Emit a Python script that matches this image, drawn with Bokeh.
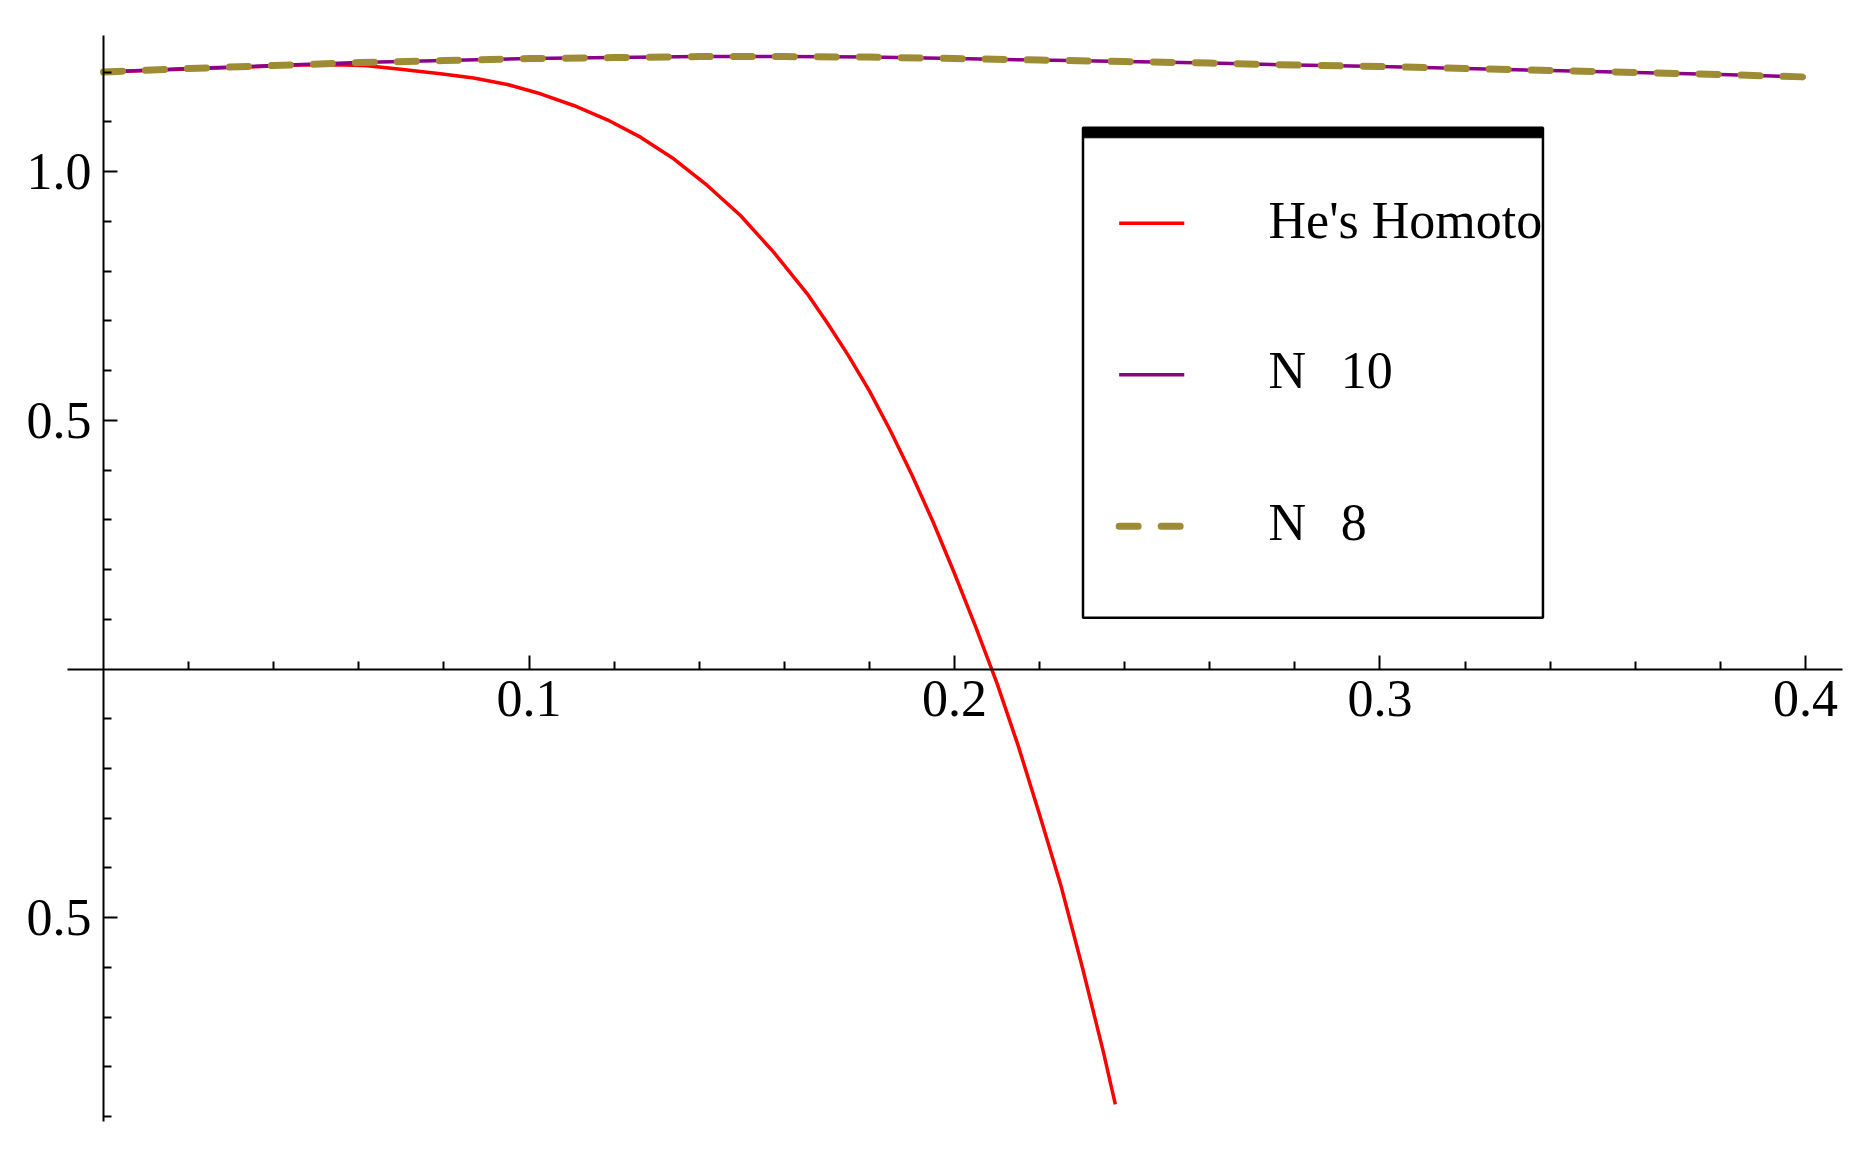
from bokeh.plotting import figure
from bokeh.models import Range1d, FixedTicker, LinearAxis, CustomJSTickFormatter
from bokeh.core.properties import value
from bokeh.embed import file_html
from bokeh.resources import INLINE

# ---- data ----
x_hpm = [0.000, 0.010, 0.020, 0.030, 0.040, 0.0463, 0.055, 0.062, 0.0698, 0.0792,
         0.0870, 0.0949, 0.1027, 0.1105, 0.1184, 0.1262, 0.1340, 0.1419, 0.1497,
         0.1575, 0.1654, 0.170, 0.175, 0.180, 0.185, 0.190, 0.195, 0.200, 0.205,
         0.210, 0.215, 0.220, 0.225, 0.230, 0.235, 0.2378]
y_hpm = [1.200, 1.203, 1.206, 1.209, 1.212, 1.2143, 1.2145, 1.2125, 1.2055, 1.1964,
         1.1880, 1.1749, 1.1562, 1.1327, 1.1039, 1.0690, 1.0255, 0.9719, 0.9116,
         0.8378, 0.7542, 0.697, 0.631, 0.559, 0.478, 0.390, 0.295, 0.192, 0.084,
         -0.029, -0.155, -0.293, -0.435, -0.598, -0.770, -0.875]

x_n = [0.00, 0.02, 0.04, 0.06, 0.08, 0.10, 0.12, 0.14, 0.16, 0.18, 0.20,
       0.22, 0.24, 0.26, 0.28, 0.30, 0.32, 0.34, 0.36, 0.38, 0.40]
y_n10 = [1.200, 1.207, 1.213, 1.219, 1.223, 1.227, 1.229, 1.231, 1.231, 1.230, 1.227,
         1.224, 1.221, 1.218, 1.214, 1.211, 1.207, 1.203, 1.199, 1.195, 1.190]
y_n8 = [1.200, 1.207, 1.213, 1.219, 1.223, 1.227, 1.229, 1.231, 1.231, 1.230, 1.227,
        1.224, 1.221, 1.218, 1.214, 1.211, 1.207, 1.203, 1.199, 1.195, 1.190]

x_major = [0.1, 0.2, 0.3, 0.4]
x_minor = [0.02, 0.04, 0.06, 0.08, 0.12, 0.14, 0.16, 0.18, 0.22, 0.24, 0.26, 0.28,
           0.32, 0.34, 0.36, 0.38]
y_major = [-0.5, 0.5, 1.0]
y_major_labels = ["0.5", "0.5", "1.0"]
y_minor = [-0.9, -0.8, -0.7, -0.6, -0.4, -0.3, -0.2, -0.1, 0.1, 0.2, 0.3, 0.4,
           0.6, 0.7, 0.8, 0.9, 1.1, 1.2]

legend_labels = ["He's Homoto", "N\u00a0\u00a0\u200610", "N\u00a0\u00a0\u20068"]

RED = "#FF0000"
PURPLE = "#8C008C"
OLIVE = "#9E8C34"
FONT = "Liberation Serif"

# axis extents (as drawn in the reference) and plotting window
X_AXIS_BOUNDS = (-0.00839, 0.4087)
Y_AXIS_BOUNDS = (-0.9095, 1.2734)

p = figure(frame_width=1840, frame_height=1115,
           x_range=Range1d(-0.02186, 0.41058), y_range=Range1d(-0.93769, 1.30352),
           output_backend="svg", toolbar_location=None,
           x_axis_location=None, y_axis_location=None,
           min_border_left=10, min_border_right=16, min_border_top=20, min_border_bottom=5)
p.outline_line_color = None
p.xgrid.visible = False
p.ygrid.visible = False
p.background_fill_color = "white"
p.border_fill_color = "white"

xa = LinearAxis(fixed_location=0, bounds=X_AXIS_BOUNDS,
                ticker=FixedTicker(ticks=x_major, minor_ticks=x_minor))
ya = LinearAxis(fixed_location=0, bounds=Y_AXIS_BOUNDS,
                ticker=FixedTicker(ticks=y_major, minor_ticks=y_minor))
ya.formatter = CustomJSTickFormatter(args=dict(labels=y_major_labels),
                                     code="return labels[index];")
for ax in (xa, ya):
    ax.axis_line_width = 2
    ax.axis_line_color = "black"
    ax.major_tick_in = 14
    ax.major_tick_out = 0
    ax.minor_tick_in = 8
    ax.minor_tick_out = 0
    ax.major_tick_line_width = 2
    ax.minor_tick_line_width = 2
    ax.major_tick_line_color = "black"
    ax.minor_tick_line_color = "black"
    ax.major_label_text_font = FONT
    ax.major_label_text_font_size = "52px"
    ax.major_label_text_color = "black"
    ax.major_label_standoff = 12
p.add_layout(xa, "below")
p.add_layout(ya, "left")

# ---- curves ----
p.line(x_hpm, y_hpm, line_color=RED, line_width=3.5, line_join="round")
p.line(x_n, y_n10, line_color=PURPLE, line_width=3.5, line_join="round")
p.line(x_n, y_n8, line_color=OLIVE, line_width=7, line_dash="19 23", line_cap="round")

# ---- legend box (layout positions in data units) ----
LG_L, LG_R, LG_T, LG_B = 0.2302, 0.3383, 1.0878, 0.1029
p.quad(left=[LG_L], right=[LG_R], top=[LG_T], bottom=[LG_B],
       fill_color="white", line_color="black", line_width=2.5)
p.quad(left=[LG_L], right=[LG_R], top=[LG_T], bottom=[LG_T - 0.020],
       fill_color="black", line_color="black", line_width=1)

sx0, sx1 = 0.2387, 0.2540
row_y = [0.8961, 0.5913, 0.2870]
text_y = [0.9007, 0.6004, 0.2943]
p.segment(x0=[sx0], y0=[row_y[0]], x1=[sx1], y1=[row_y[0]], line_color=RED, line_width=3.5)
p.segment(x0=[sx0], y0=[row_y[1]], x1=[sx1], y1=[row_y[1]], line_color=PURPLE, line_width=3.5)
p.segment(x0=[sx0], y0=[row_y[2]], x1=[sx1], y1=[row_y[2]], line_color=OLIVE, line_width=7,
          line_dash="19 23", line_cap="round")
p.text(x=[0.2738] * 3, y=text_y, text=legend_labels,
       text_font=value(FONT), text_font_size="52px", text_color="black",
       text_baseline="alphabetic", text_align="left")

open("out.html", "w").write(file_html(p, INLINE))
